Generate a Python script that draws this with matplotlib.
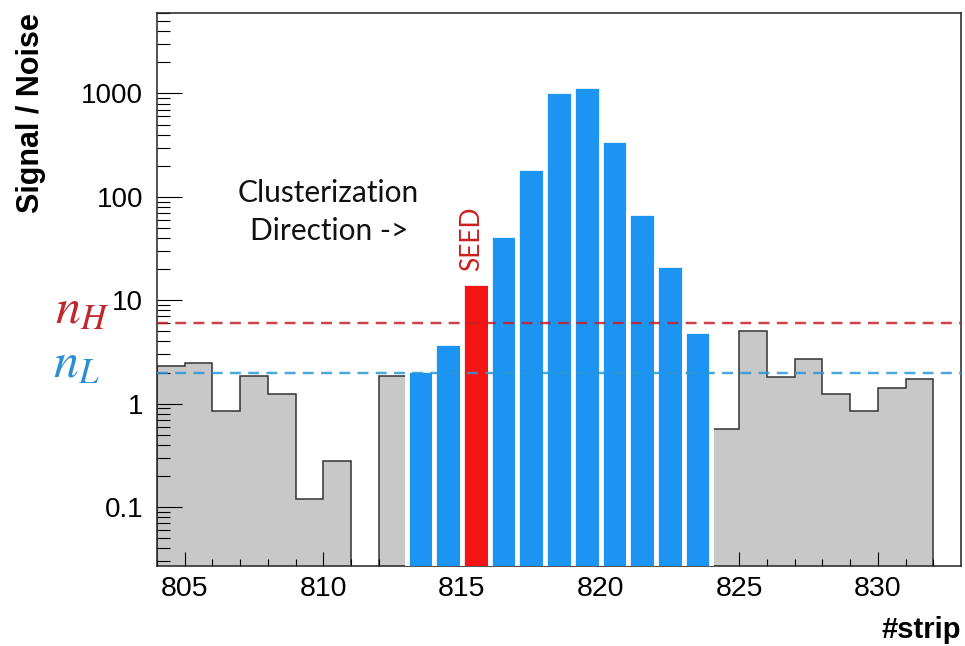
import numpy as np
import matplotlib
matplotlib.use("Agg")
import matplotlib.pyplot as plt
from matplotlib.ticker import FixedLocator, NullFormatter, LogLocator

# ---------------- data ----------------
strips = np.arange(804, 833)            # bin i covers [strip, strip+1)
signal_noise = [2.3, 2.5, 0.85, 1.87, 1.25, 0.12, 0.28, 0.0, 1.87,
                2.1, 3.9, 14.6, 43, 190, 1050, 1170, 355, 70, 22, 5.0,
                0.57, 5.1, 1.83, 2.7, 1.25, 0.86, 1.43, 1.75, 0.0]
cluster_first, cluster_last = 813, 823
seed_strip = 815
n_high = 6.0
n_low = 2.0
x_ticks_major = [805, 810, 815, 820, 825, 830]
y_ticks_major = [0.1, 1, 10, 100, 1000]
y_tick_labels = ["0.1", "1", "10", "100", "1000"]

# ---------------- style ----------------
BLUE = "#1c95f2"
RED = "#f41414"
GRAY = "#c8c8c8"
YMIN, YMAX = 0.027, 6000

plt.rcParams['font.family'] = ['Liberation Sans', 'DejaVu Sans']

fig = plt.figure(figsize=(9.65, 6.46), dpi=100)
ax = fig.add_axes([157/965, 1-566/646, (961-157)/965, (566-13)/646])

vals = np.array(signal_noise, dtype=float)
edges = np.append(strips, strips[-1] + 1)
draw_vals = np.where(vals > 0, vals, YMIN * 1e-3)

# gray histogram (all strips)
ax.stairs(draw_vals, edges, baseline=YMIN * 1e-3, fill=True, color=GRAY, zorder=1)
ax.stairs(draw_vals, edges, baseline=YMIN * 1e-3, fill=False, color="#333333",
          linewidth=1.1, zorder=1.5)

# cluster bars
mask = (strips >= cluster_first) & (strips <= cluster_last)
cl_x = strips[mask] + 0.5
cl_v = vals[mask]
cl_c = [RED if s == seed_strip else BLUE for s in strips[mask]]
ax.bar(cl_x, cl_v, width=1.0, bottom=YMIN * 1e-3, color=cl_c, edgecolor="white",
       linewidth=3.4, zorder=3)

# threshold lines
ax.axhline(n_high, color="#c8202a", linestyle=(0, (4.5, 3.0)), linewidth=1.75,
           alpha=0.85, zorder=4)
ax.axhline(n_low, color="#2a98d6", linestyle=(0, (4.5, 3.0)), linewidth=1.75,
           alpha=0.85, zorder=4)

ax.set_yscale("log")
ax.set_xlim(edges[0], edges[-1])
ax.set_ylim(YMIN, YMAX)

ax.xaxis.set_major_locator(FixedLocator(x_ticks_major))
ax.xaxis.set_minor_locator(FixedLocator(list(strips)))
ax.set_xticklabels([str(t) for t in x_ticks_major])
ax.yaxis.set_major_locator(FixedLocator(y_ticks_major))
ax.set_yticklabels(y_tick_labels)
ax.yaxis.set_minor_locator(LogLocator(base=10, subs=np.arange(2, 10)))
ax.yaxis.set_minor_formatter(NullFormatter())

ax.tick_params(axis='x', which='major', direction='in', length=10, width=0.8,
               labelsize=20.5, pad=7, top=False)
ax.tick_params(axis='x', which='minor', direction='in', length=5, width=0.8, top=False)
ax.tick_params(axis='y', which='major', direction='in', length=18, width=0.8,
               labelsize=20, pad=10, right=False)
ax.tick_params(axis='y', which='minor', direction='in', length=9, width=0.8, right=False)
for sp in ax.spines.values():
    sp.set_linewidth(1.1)
    sp.set_color("#222222")

ax.set_ylabel("Signal / Noise", loc="top", fontsize=22, fontweight="bold")
ax.yaxis.set_label_coords(-0.138, 1.0)
ax.set_xlabel("#strip", loc="right", fontsize=21, fontweight="bold")
ax.xaxis.set_label_coords(1.0, -0.09)

# annotations
fig.text(328/965, 1-202/646, "Clusterization", family=["Lato", "DejaVu Sans"],
         fontsize=21.5, ha="center", va="baseline", color="#111111")
fig.text(329/965, 1-240/646, "Direction ->", family=["Lato", "DejaVu Sans"],
         fontsize=21.5, ha="center", va="baseline", color="#111111")
fig.text(472/965, 1-239/646, "SEED", family=["Lato", "DejaVu Sans"], rotation=90,
         fontsize=19, ha="center", va="center", color="#cc1f1f")
fig.text(55/965, 1-323/646, r"$n_H$", fontsize=36, color="#c0262d",
         math_fontfamily="stix", ha="left", va="baseline")
fig.text(53/965, 1-377/646, r"$n_L$", fontsize=36, color="#2a8fd0",
         math_fontfamily="stix", ha="left", va="baseline")

fig.savefig("out.png", dpi=100)
